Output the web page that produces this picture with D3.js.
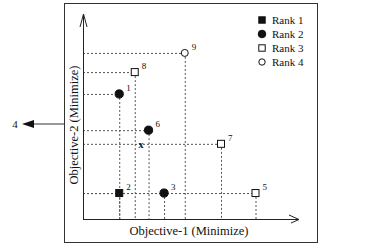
<!DOCTYPE html>
<html>
<head>
<meta charset="utf-8">
<script src="https://cdn.jsdelivr.net/npm/d3@7"></script>
<style>
body { margin: 0; background: #fff; }
text { font-family: "Liberation Serif", "DejaVu Serif", serif; fill: #111; }
</style>
</head>
<body>
<svg width="387" height="247"></svg>
<script>
// Solutions (objective-1, objective-2, rank)
var ids   = ["1", "2", "3", "5", "6", "7", "8", "9"];
var obj1  = [10.5, 10.5, 23.5, 50, 19, 40, 15, 29.5];
var obj2  = [36.6, 7.6, 7.6, 7.6, 26, 22, 43, 48.6];
var ranks = [2, 1, 2, 3, 2, 3, 3, 4];

// the point that lies off the plot (to the left)
var offId = "4", offObj2 = 27.8;
// reference point "x"
var refObj1 = 16.8, refObj2 = 22;

var legendLabels = ["Rank 1", "Rank 2", "Rank 3", "Rank 4"];

var svg = d3.select("svg");

var x = d3.scaleLinear().domain([0, 60]).range([83, 290]);
var y = d3.scaleLinear().domain([0, 60]).range([219, 14]);

var data = ids.map(function (d, i) {
  return { id: d, a: obj1[i], b: obj2[i], rank: ranks[i] };
});

// outer frame
svg.append("rect")
  .attr("x", 64.5).attr("y", 3.5)
  .attr("width", 253).attr("height", 239)
  .attr("fill", "none").attr("stroke", "#333").attr("stroke-width", 1);

// dashed guide lines
var guides = svg.append("g")
  .attr("stroke", "#555").attr("stroke-width", 1)
  .attr("stroke-dasharray", "2,2");
guides.selectAll(".h").data(data).enter().append("line")
  .attr("x1", x(0)).attr("x2", function (d) { return x(d.a); })
  .attr("y1", function (d) { return y(d.b) + 0.5; })
  .attr("y2", function (d) { return y(d.b) + 0.5; });
guides.selectAll(".v").data(data).enter().append("line")
  .attr("x1", function (d) { return x(d.a) + 0.5; })
  .attr("x2", function (d) { return x(d.a) + 0.5; })
  .attr("y1", function (d) { return y(d.b); }).attr("y2", y(0));

// axes with open arrowheads
var ax = svg.append("g").attr("stroke", "#222").attr("stroke-width", 1).attr("fill", "none");
ax.append("line").attr("x1", x(0) + 0.5).attr("x2", x(0) + 0.5).attr("y1", y(0)).attr("y2", y(60));
ax.append("line").attr("x1", x(0)).attr("x2", 299).attr("y1", y(0) + 0.5).attr("y2", y(0) + 0.5);
ax.append("path").attr("d", "M80,27 L83.5,14 L87,27");
ax.append("path").attr("d", "M289,215 L299,219.5 L291,223");

// markers
function drawMarker(g, rank, r) {
  if (rank === 1 || rank === 3) {
    g.append("rect")
      .attr("x", -r).attr("y", -r).attr("width", 2 * r).attr("height", 2 * r)
      .attr("fill", rank === 1 ? "#111" : "#fff")
      .attr("stroke", "#111").attr("stroke-width", 1);
  } else {
    g.append("circle").attr("r", rank === 2 ? r + 0.6 : r)
      .attr("fill", rank === 2 ? "#111" : "#fff")
      .attr("stroke", "#111").attr("stroke-width", 1);
  }
}

var pts = svg.selectAll(".pt").data(data).enter().append("g")
  .attr("transform", function (d) { return "translate(" + x(d.a) + "," + y(d.b) + ")"; });
pts.each(function (d) { drawMarker(d3.select(this), d.rank, 3.5); });
pts.append("text")
  .attr("x", 7).attr("y", -3)
  .attr("font-size", 9)
  .text(function (d) { return d.id; });

// reference point x
svg.append("text")
  .attr("x", x(refObj1)).attr("y", y(refObj2) + 4)
  .attr("text-anchor", "middle")
  .attr("font-size", 10).attr("font-weight", "bold")
  .text("x");

// off-plot point 4 with arrow
svg.append("line")
  .attr("x1", 64).attr("x2", 32)
  .attr("y1", y(offObj2)).attr("y2", y(offObj2))
  .attr("stroke", "#777").attr("stroke-width", 1.5);
svg.append("path")
  .attr("d", "M22," + y(offObj2) + " L34," + (y(offObj2) - 4) + " L34," + (y(offObj2) + 4) + "Z")
  .attr("fill", "#111");
svg.append("text")
  .attr("x", 15).attr("y", y(offObj2) + 4)
  .attr("text-anchor", "middle").attr("font-size", 11)
  .text(offId);

// legend
var leg = svg.selectAll(".leg").data(legendLabels).enter().append("g")
  .attr("transform", function (d, i) { return "translate(262," + (20 + i * 14) + ")"; });
leg.each(function (d, i) { drawMarker(d3.select(this), i + 1, 3.2); });
leg.append("text")
  .attr("x", 10).attr("y", 4)
  .attr("font-size", 11)
  .text(function (d) { return d; });

// axis titles
svg.append("text")
  .attr("x", 189).attr("y", 235)
  .attr("text-anchor", "middle").attr("font-size", 12.5)
  .text("Objective-1 (Minimize)");
svg.append("text")
  .attr("transform", "translate(78,125) rotate(-90)")
  .attr("text-anchor", "middle").attr("font-size", 12.5)
  .text("Objective-2 (Minimize)");
</script>
</body>
</html>
